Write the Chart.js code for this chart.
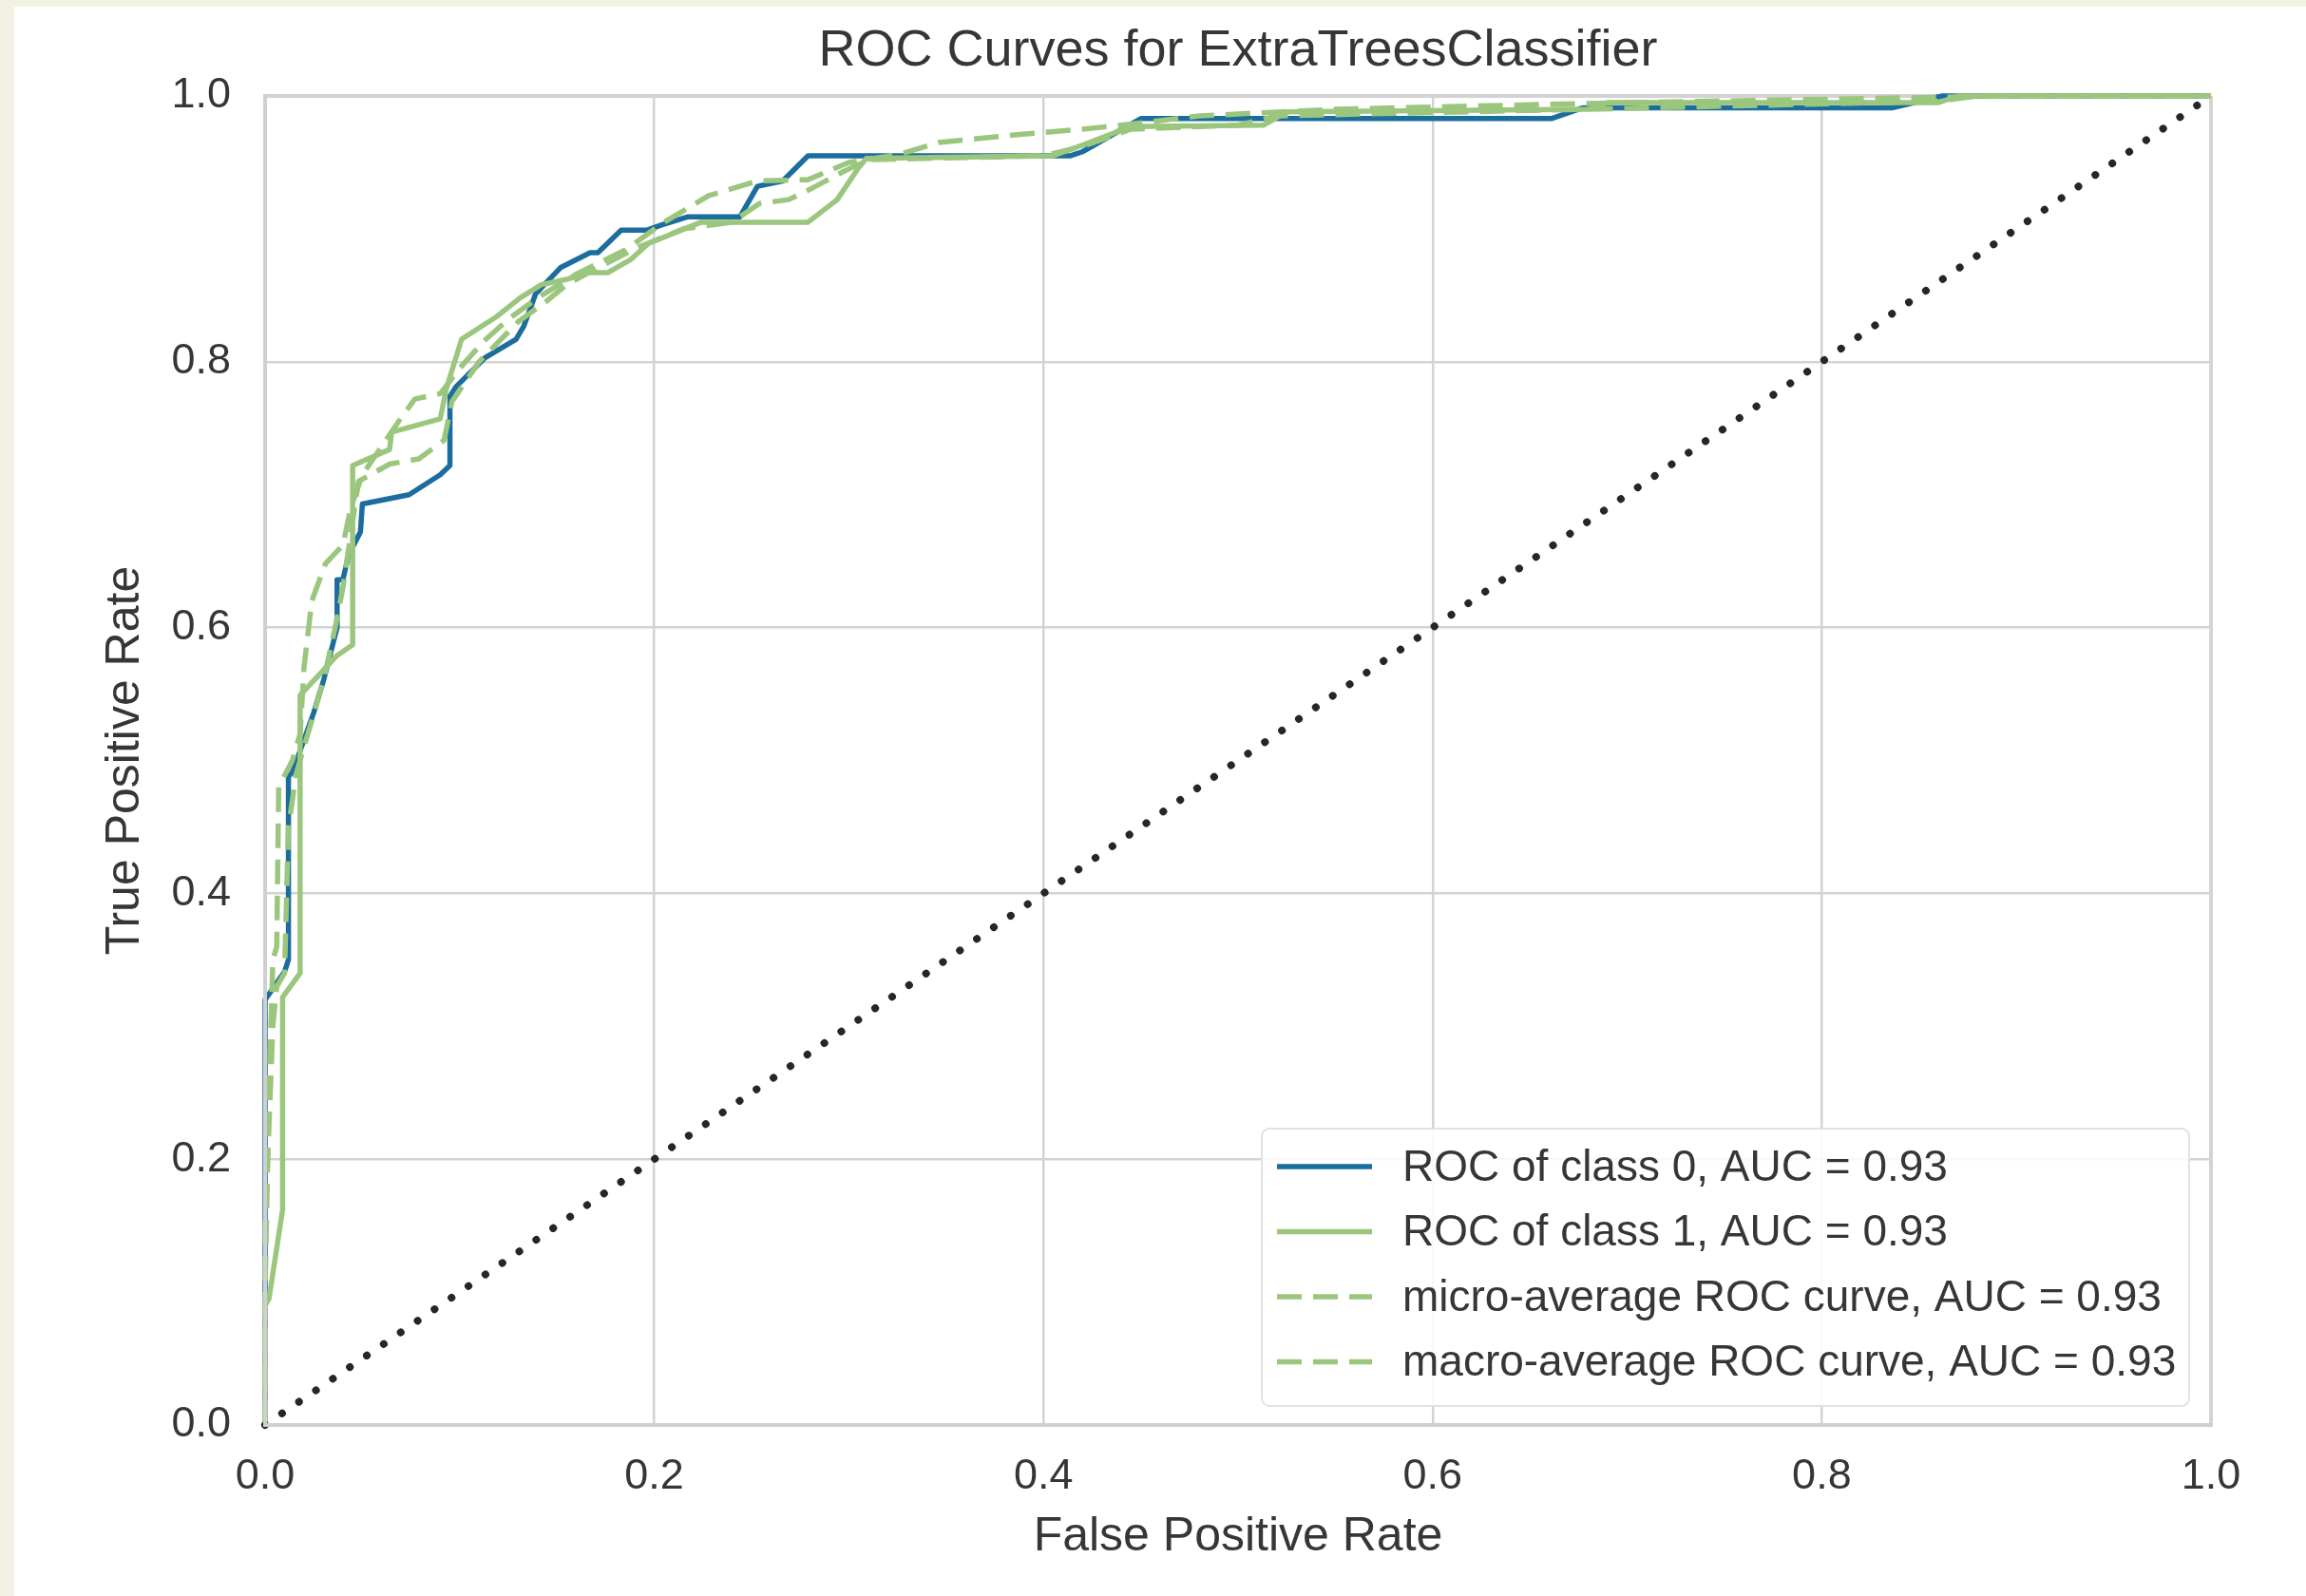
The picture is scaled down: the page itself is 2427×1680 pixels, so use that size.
<!DOCTYPE html>
<html>
<head>
<meta charset="utf-8">
<title>ROC Curves for ExtraTreesClassifier</title>
<script src="https://cdn.jsdelivr.net/npm/chart.js@4.4.1/dist/chart.umd.min.js"></script>
<style>
  html, body { margin: 0; padding: 0; background: #f3f1e4; }
  canvas { display: block; }
</style>
</head>
<body>
<canvas id="roc" width="2427" height="1680"></canvas>
<script>
// ---- data ----
const chartTitle = 'ROC Curves for ExtraTreesClassifier';
const xAxisTitle = 'False Positive Rate';
const yAxisTitle = 'True Positive Rate';
const tickValues = [0, 0.2, 0.4, 0.6, 0.8, 1.0];

const seriesLabels = [
    'ROC of class 0, AUC = 0.93',
    'ROC of class 1, AUC = 0.93',
    'micro-average ROC curve, AUC = 0.93',
    'macro-average ROC curve, AUC = 0.93'
];

const class0Fpr = [0, 0, 0.010, 0.012, 0.012, 0.014, 0.025, 0.030, 0.037, 0.037, 0.040, 0.043, 0.049, 0.050, 0.074, 0.090, 0.095, 0.095, 0.098, 0.113, 0.129, 0.133, 0.139, 0.152, 0.167, 0.171, 0.183, 0.196, 0.204, 0.217, 0.244, 0.253, 0.266, 0.279, 0.414, 0.420, 0.450, 0.661, 0.677, 0.836, 0.862, 1.0];
const class0Tpr = [0, 0.320, 0.341, 0.350, 0.488, 0.491, 0.536, 0.560, 0.600, 0.636, 0.636, 0.655, 0.672, 0.693, 0.700, 0.715, 0.722, 0.774, 0.781, 0.803, 0.817, 0.827, 0.851, 0.871, 0.882, 0.882, 0.899, 0.899, 0.903, 0.909, 0.909, 0.932, 0.936, 0.955, 0.955, 0.958, 0.983, 0.983, 0.991, 0.991, 1.0, 1.0];

const class1Fpr = [0, 0, 0.002, 0.009, 0.009, 0.018, 0.018, 0.037, 0.045, 0.045, 0.064, 0.065, 0.090, 0.093, 0.101, 0.119, 0.131, 0.142, 0.155, 0.165, 0.176, 0.188, 0.197, 0.224, 0.279, 0.294, 0.305, 0.309, 0.405, 0.420, 0.445, 0.513, 0.525, 0.680, 0.690, 0.860, 0.870, 1.0];
const class1Tpr = [0, 0.090, 0.095, 0.162, 0.322, 0.340, 0.549, 0.579, 0.587, 0.722, 0.734, 0.747, 0.757, 0.779, 0.817, 0.834, 0.848, 0.858, 0.862, 0.867, 0.867, 0.877, 0.889, 0.905, 0.905, 0.922, 0.946, 0.953, 0.955, 0.963, 0.977, 0.978, 0.988, 0.990, 0.995, 0.995, 1.0, 1.0];

const microFpr = [0, 0, 0.002, 0.004, 0.006, 0.007, 0.014, 0.018, 0.020, 0.024, 0.031, 0.040, 0.044, 0.050, 0.070, 0.077, 0.090, 0.100, 0.112, 0.125, 0.140, 0.160, 0.185, 0.205, 0.228, 0.253, 0.279, 0.300, 0.326, 0.346, 0.388, 0.420, 0.440, 0.480, 0.550, 0.700, 0.900, 1.0];
const microTpr = [0, 0.100, 0.250, 0.350, 0.360, 0.480, 0.500, 0.520, 0.570, 0.620, 0.648, 0.662, 0.690, 0.715, 0.758, 0.772, 0.776, 0.795, 0.815, 0.832, 0.848, 0.866, 0.884, 0.905, 0.925, 0.936, 0.937, 0.950, 0.956, 0.965, 0.971, 0.975, 0.978, 0.985, 0.990, 0.995, 1.0, 1.0];

const macroFpr = [0, 0, 0.004, 0.006, 0.010, 0.012, 0.016, 0.022, 0.030, 0.036, 0.040, 0.045, 0.048, 0.064, 0.079, 0.092, 0.096, 0.110, 0.130, 0.145, 0.155, 0.170, 0.190, 0.215, 0.240, 0.254, 0.269, 0.279, 0.297, 0.310, 0.400, 0.420, 0.445, 0.500, 0.520, 0.680, 0.860, 0.880, 1.0];
const macroTpr = [0, 0.150, 0.300, 0.330, 0.340, 0.450, 0.490, 0.520, 0.560, 0.600, 0.630, 0.680, 0.710, 0.723, 0.727, 0.741, 0.770, 0.800, 0.830, 0.846, 0.858, 0.870, 0.885, 0.900, 0.905, 0.919, 0.922, 0.929, 0.943, 0.952, 0.955, 0.962, 0.975, 0.978, 0.985, 0.990, 0.996, 1.0, 1.0];

const chanceFpr = [0, 1];
const chanceTpr = [0, 1];

// ---- styling ----
const BLUE = '#1b6d9d';
const GREEN = '#9bc67d';
const TEXT = '#363636';
const GRID = '#d3d3d3';
const FONT = "'Liberation Sans', Arial, sans-serif";

const toPoints = (xs, ys) => xs.map((x, i) => ({ x: x, y: ys[i] }));

function curve(label, xs, ys, color, dashed, order) {
    return {
        label: label,
        data: toPoints(xs, ys),
        borderColor: color,
        backgroundColor: color,
        borderWidth: 5.5,
        borderDash: dashed ? [26, 12] : [],
        borderJoinStyle: 'round',
        pointRadius: 0,
        tension: 0,
        fill: false,
        showLine: true,
        clip: 8,
        order: order
    };
}

// fondo: marco beige con la hoja blanca encima
const pluginFondo = {
    id: 'fondo',
    beforeDraw: (chart) => {
        const { ctx, width, height } = chart;
        ctx.save();
        ctx.fillStyle = '#f3f1e4';
        ctx.fillRect(0, 0, width, height);
        ctx.fillStyle = '#ffffff';
        ctx.fillRect(15, 7, width - 15, height - 7);
        ctx.restore();
    }
};

// leyenda dentro del área del gráfico, abajo a la derecha
const pluginLeyenda = {
    id: 'leyendaInterior',
    afterDraw: (chart) => {
        const { ctx, chartArea: { right, bottom } } = chart;
        const boxW = 976, boxH = 292;
        const boxX = right - 23 - boxW;
        const boxY = bottom - 20 - boxH;
        ctx.save();
        ctx.beginPath();
        ctx.roundRect(boxX, boxY, boxW, boxH, 8);
        ctx.fillStyle = 'rgba(255, 255, 255, 0.85)';
        ctx.fill();
        ctx.lineWidth = 2;
        ctx.strokeStyle = '#e2e2e2';
        ctx.stroke();

        ctx.font = '46px ' + FONT;
        ctx.textAlign = 'left';
        ctx.textBaseline = 'middle';
        const items = chart.data.datasets.filter(d => d.label);
        items.forEach((ds, i) => {
            const y = boxY + 40 + i * 68.5;
            ctx.beginPath();
            ctx.setLineDash(ds.borderDash);
            ctx.lineWidth = ds.borderWidth;
            ctx.strokeStyle = ds.borderColor;
            ctx.moveTo(boxX + 16, y);
            ctx.lineTo(boxX + 116, y);
            ctx.stroke();
            ctx.setLineDash([]);
            ctx.fillStyle = TEXT;
            ctx.fillText(ds.label, boxX + 148, y + 2);
        });
        ctx.restore();
    }
};

Chart.defaults.font.family = FONT;
Chart.defaults.color = TEXT;

const edgeWidth = (c) => (c.tick && (c.tick.value === 0 || c.tick.value === 1)) ? 4 : 2.5;

new Chart(document.getElementById('roc').getContext('2d'), {
    type: 'scatter',
    data: {
        datasets: [
            curve(seriesLabels[0], class0Fpr, class0Tpr, BLUE, false, 5),
            curve(seriesLabels[1], class1Fpr, class1Tpr, GREEN, false, 4),
            curve(seriesLabels[2], microFpr, microTpr, GREEN, true, 3),
            curve(seriesLabels[3], macroFpr, macroTpr, GREEN, true, 2),
            {
                label: '',
                data: toPoints(chanceFpr, chanceTpr),
                borderColor: '#262626',
                borderWidth: 8,
                borderDash: [0.1, 21.5],
                borderCapStyle: 'round',
                pointRadius: 0,
                showLine: true,
                fill: false,
                clip: 8,
                order: 1
            }
        ]
    },
    plugins: [pluginFondo, pluginLeyenda],
    options: {
        responsive: false,
        animation: false,
        devicePixelRatio: 1,
        layout: { padding: { left: 0, right: 100, top: 0, bottom: 0 } },
        plugins: {
            legend: { display: false },
            tooltip: { enabled: false },
            title: {
                display: true,
                text: chartTitle,
                fullSize: false,
                color: TEXT,
                font: { size: 54, weight: 'normal', lineHeight: 1.2 },
                padding: { top: 22, bottom: 14.2 }
            }
        },
        scales: {
            x: {
                type: 'linear',
                min: 0,
                max: 1,
                afterBuildTicks: (scale) => { scale.ticks = tickValues.map(v => ({ value: v })); },
                afterFit: (scale) => { scale.height = 180; },
                ticks: {
                    color: TEXT,
                    padding: 28,
                    font: { size: 45 },
                    maxRotation: 0,
                    callback: (v) => Number(v).toFixed(1)
                },
                grid: { color: GRID, lineWidth: edgeWidth, drawTicks: false },
                border: { display: true, color: '#cfcfcf', width: 4, z: 1 },
                title: {
                    display: true,
                    text: xAxisTitle,
                    color: TEXT,
                    font: { size: 50, lineHeight: 1.2 },
                    padding: { top: 0, bottom: 32 }
                }
            },
            y: {
                type: 'linear',
                min: 0,
                max: 1,
                afterBuildTicks: (scale) => { scale.ticks = tickValues.map(v => ({ value: v })); },
                afterFit: (scale) => { scale.width = 279; },
                ticks: {
                    color: TEXT,
                    padding: 36,
                    font: { size: 45 },
                    callback: (v) => Number(v).toFixed(1)
                },
                grid: { color: GRID, lineWidth: edgeWidth, drawTicks: false },
                border: { display: true, color: '#cfcfcf', width: 4, z: 1 },
                title: {
                    display: true,
                    text: yAxisTitle,
                    color: TEXT,
                    font: { size: 50, lineHeight: 1.2 },
                    padding: { top: 102, bottom: 0 }
                }
            }
        }
    }
});
</script>
</body>
</html>
